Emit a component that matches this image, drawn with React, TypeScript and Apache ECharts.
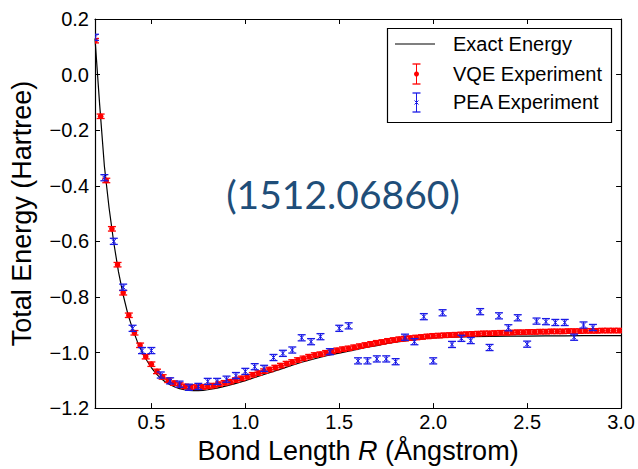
import React, { useEffect, useRef } from "react";
import * as echarts from "echarts";

// ---------- data ----------
const EXACT_R = [
  0.2, 0.225, 0.25, 0.275, 0.3, 0.325, 0.35, 0.375, 0.4, 0.425, 0.45, 0.475, 0.5,
  0.525, 0.55, 0.575, 0.6, 0.625, 0.65, 0.675, 0.7, 0.725, 0.75, 0.775, 0.8,
  0.85, 0.9, 0.95, 1.0, 1.05, 1.1, 1.15, 1.2, 1.25, 1.3, 1.35, 1.4, 1.45, 1.5,
  1.55, 1.6, 1.65, 1.7, 1.75, 1.8, 1.85, 1.9, 1.95, 2.0, 2.1, 2.2, 2.3, 2.4,
  2.5, 2.6, 2.7, 2.8, 2.9, 3.0,
];
const EXACT_E = [
  0.13, -0.11, -0.33, -0.48, -0.605, -0.71, -0.793, -0.862, -0.915, -0.96, -0.997,
  -1.028, -1.054, -1.076, -1.093, -1.106, -1.116, -1.124, -1.13, -1.134, -1.136,
  -1.137, -1.137, -1.136, -1.134, -1.128, -1.12, -1.111, -1.101, -1.09, -1.079,
  -1.068, -1.057, -1.046, -1.035, -1.026, -1.017, -1.009, -1.002, -0.995, -0.988,
  -0.981, -0.975, -0.968, -0.963, -0.958, -0.954, -0.95, -0.947, -0.945, -0.943,
  -0.942, -0.941, -0.941, -0.94, -0.94, -0.939, -0.939, -0.939,
];

// VQE points, R = 0.20, 0.23, 0.26, ... 2.99
const VQE_R0 = 0.2;
const VQE_STEP = 0.03;
const VQE_E = [
  0.122, -0.15, -0.381, -0.555, -0.684, -0.785, -0.866, -0.929, -0.974, -1.015,
  -1.042, -1.068, -1.088, -1.1, -1.11, -1.117, -1.122, -1.124, -1.125, -1.124,
  -1.122, -1.119, -1.114, -1.109, -1.105, -1.099, -1.093, -1.087, -1.08, -1.074,
  -1.067, -1.061, -1.054, -1.047, -1.04, -1.034, -1.027, -1.021, -1.015, -1.009,
  -1.006, -1.001, -0.996, -0.992, -0.988, -0.985, -0.981, -0.977, -0.973, -0.969,
  -0.965, -0.962, -0.958, -0.955, -0.952, -0.95, -0.948, -0.946, -0.944, -0.942,
  -0.94, -0.939, -0.938, -0.937, -0.936, -0.935, -0.934, -0.933, -0.932, -0.931,
  -0.931, -0.93, -0.929, -0.929, -0.928, -0.927, -0.927, -0.926, -0.926, -0.925,
  -0.925, -0.924, -0.924, -0.924, -0.923, -0.923, -0.923, -0.922, -0.922, -0.922,
  -0.921, -0.921, -0.921, -0.921,
];
const VQE_ERR = 0.008;

// PEA points, R = 0.20, 0.25, ... 2.85
const PEA_R0 = 0.2;
const PEA_STEP = 0.05;
const PEA_E = [
  0.134, -0.371, -0.6, -0.765, -0.913, -0.993, -0.993, -1.081, -1.102, -1.114,
  -1.125, -1.122, -1.104, -1.104, -1.096, -1.083, -1.068, -1.051, -1.057, -1.018,
  -1.003, -0.991, -0.947, -0.961, -0.943, -0.997, -0.913, -0.904, -1.03, -1.03,
  -1.023, -1.023, -1.033, -0.945, -0.961, -0.871, -1.03, -0.857, -0.971, -0.949,
  -0.957, -0.853, -0.982, -0.868, -0.911, -0.875, -0.97, -0.887, -0.889, -0.892,
  -0.892, -0.945, -0.901, -0.91,
];
const PEA_ERR = 0.011;

const X_TICKS = [0.5, 1.0, 1.5, 2.0, 2.5, 3.0];

const RED = "#ff0000";
const BLUE = "#1a1ae6";
const FONT = "Liberation Sans";

function grid(r0: number, step: number, n: number) {
  return Array.from({ length: n }, (_, i) => +(r0 + i * step).toFixed(3));
}

export default function App() {
  const ref = useRef<HTMLDivElement>(null);
  useEffect(() => {
    if (!ref.current) return;
    const chart = echarts.init(ref.current, null, { renderer: "svg" });
    const vqeR = grid(VQE_R0, VQE_STEP, VQE_E.length);
    const peaR = grid(PEA_R0, PEA_STEP, PEA_E.length);

    const errRender = (color: string, kind: "dot" | "x") => (params: any, api: any) => {
      const x = api.value(0);
      const y = api.value(1);
      const e = api.value(2);
      const p = api.coord([x, y]);
      const t = api.coord([x, y + e]);
      const b = api.coord([x, y - e]);
      const cw = 4;
      const st = { stroke: color, lineWidth: 1.3 };
      const children: any[] = [
        { type: "line", shape: { x1: p[0], y1: t[1], x2: p[0], y2: b[1] }, style: st },
        { type: "line", shape: { x1: p[0] - cw, y1: t[1], x2: p[0] + cw, y2: t[1] }, style: st },
        { type: "line", shape: { x1: p[0] - cw, y1: b[1], x2: p[0] + cw, y2: b[1] }, style: st },
      ];
      if (kind === "dot") {
        children.push({ type: "circle", shape: { cx: p[0], cy: p[1], r: 2.8 }, style: { fill: color } });
      } else {
        const s = 2.2;
        children.push({ type: "line", shape: { x1: p[0] - s, y1: p[1] - s, x2: p[0] + s, y2: p[1] + s }, style: { stroke: color, lineWidth: 1 } });
        children.push({ type: "line", shape: { x1: p[0] - s, y1: p[1] + s, x2: p[0] + s, y2: p[1] - s }, style: { stroke: color, lineWidth: 1 } });
      }
      return { type: "group", children };
    };

    const axisCommon = {
      axisLine: { show: true, onZero: false, lineStyle: { color: "#000", width: 1.2 } },
      splitLine: { show: false },
    };

    const legendX = 416.5;
    const legendTextX = 453;
    const legendText = (text: string, y: number) => ({
      type: "text",
      x: legendTextX,
      y,
      style: { text, fontSize: 20, fontFamily: FONT, fill: "#000", verticalAlign: "middle" },
    });

    chart.setOption({
      animation: false,
      backgroundColor: "#fff",
      grid: { left: 95, right: 16, top: 19, bottom: 59 },
      xAxis: [
        {
          type: "value",
          min: 0.2,
          max: 3.0,
          ...axisCommon,
          axisTick: { inside: true, length: 5, customValues: X_TICKS, lineStyle: { color: "#000" } },
          axisLabel: {
            customValues: X_TICKS,
            formatter: (v: number) => v.toFixed(1),
            color: "#000",
            fontSize: 20,
            fontFamily: FONT,
            margin: 4,
          },
          name: "Bond Length {i|R} (Ångstrom)",
          nameLocation: "middle",
          nameGap: 20,
          nameTextStyle: {
            fontSize: 27,
            fontFamily: FONT,
            color: "#000",
            verticalAlign: "top",
            rich: { i: { fontStyle: "italic", fontSize: 27, fontFamily: FONT, color: "#000" } },
          },
        },
        {
          type: "value",
          position: "top",
          min: 0.2,
          max: 3.0,
          ...axisCommon,
          axisTick: { inside: true, length: 5, customValues: X_TICKS, lineStyle: { color: "#000" } },
          axisLabel: { show: false },
        },
      ],
      yAxis: [
        {
          type: "value",
          min: -1.2,
          max: 0.2,
          interval: 0.2,
          ...axisCommon,
          axisTick: { inside: true, length: 5, lineStyle: { color: "#000" } },
          axisLabel: {
            formatter: (v: number) => v.toFixed(1).replace("-", "\u2212"),
            color: "#000",
            fontSize: 20,
            fontFamily: FONT,
            margin: 6,
          },
          name: "Total Energy (Hartree)",
          nameLocation: "middle",
          nameGap: 60,
          nameTextStyle: { fontSize: 27, fontFamily: FONT, color: "#000" },
        },
        {
          type: "value",
          position: "right",
          min: -1.2,
          max: 0.2,
          interval: 0.2,
          ...axisCommon,
          axisTick: { inside: true, length: 5, lineStyle: { color: "#000" } },
          axisLabel: { show: false },
        },
      ],
      series: [
        {
          type: "line",
          name: "Exact Energy",
          data: EXACT_R.map((r, i) => [r, EXACT_E[i]]),
          showSymbol: false,
          lineStyle: { color: "#000", width: 1.2 },
          z: 2,
        },
        {
          type: "custom",
          name: "VQE Experiment",
          data: vqeR.map((r, i) => [r, VQE_E[i], VQE_ERR]),
          encode: { x: 0, y: 1 },
          renderItem: errRender(RED, "dot"),
          clip: true,
          z: 3,
        },
        {
          type: "custom",
          name: "PEA Experiment",
          data: peaR.map((r, i) => [r, PEA_E[i], PEA_ERR]),
          encode: { x: 0, y: 1 },
          renderItem: errRender(BLUE, "x"),
          clip: true,
          z: 4,
        },
      ],
      graphic: [
        {
          type: "text",
          x: 343,
          y: 194,
          style: {
            text: "(1512.06860)",
            fontSize: 39,
            fontFamily: "Lato",
            fill: "#1f4e79",
            align: "center",
            verticalAlign: "middle",
          },
          z: 50,
        },
        {
          type: "group",
          z: 100,
          children: [
            { type: "rect", shape: { x: 387.5, y: 28.5, width: 224, height: 94 }, style: { fill: "#fff", stroke: "#000", lineWidth: 1.2 } },
            { type: "line", shape: { x1: 395, y1: 44, x2: 435, y2: 44 }, style: { stroke: "#000", lineWidth: 1.2 } },
            legendText("Exact Energy", 44),
            { type: "line", shape: { x1: legendX, y1: 64, x2: legendX, y2: 84 }, style: { stroke: RED, lineWidth: 1 } },
            { type: "line", shape: { x1: legendX - 4, y1: 64, x2: legendX + 4, y2: 64 }, style: { stroke: RED, lineWidth: 1.3 } },
            { type: "line", shape: { x1: legendX - 4, y1: 84, x2: legendX + 4, y2: 84 }, style: { stroke: RED, lineWidth: 1.3 } },
            { type: "circle", shape: { cx: legendX, cy: 74, r: 2.5 }, style: { fill: RED } },
            legendText("VQE Experiment", 74),
            { type: "line", shape: { x1: legendX, y1: 93, x2: legendX, y2: 112 }, style: { stroke: BLUE, lineWidth: 1 } },
            { type: "line", shape: { x1: legendX - 4, y1: 93, x2: legendX + 4, y2: 93 }, style: { stroke: BLUE, lineWidth: 1.3 } },
            { type: "line", shape: { x1: legendX - 4, y1: 112, x2: legendX + 4, y2: 112 }, style: { stroke: BLUE, lineWidth: 1.3 } },
            { type: "line", shape: { x1: legendX - 2, y1: 100.5, x2: legendX + 2, y2: 104.5 }, style: { stroke: BLUE, lineWidth: 1 } },
            { type: "line", shape: { x1: legendX - 2, y1: 104.5, x2: legendX + 2, y2: 100.5 }, style: { stroke: BLUE, lineWidth: 1 } },
            legendText("PEA Experiment", 102),
          ],
        },
      ],
    });
    return () => chart.dispose();
  }, []);
  return (
    <div
      ref={ref}
      style={{ position: "fixed", left: 0, top: 0, width: 638, height: 469 }}
    />
  );
}
